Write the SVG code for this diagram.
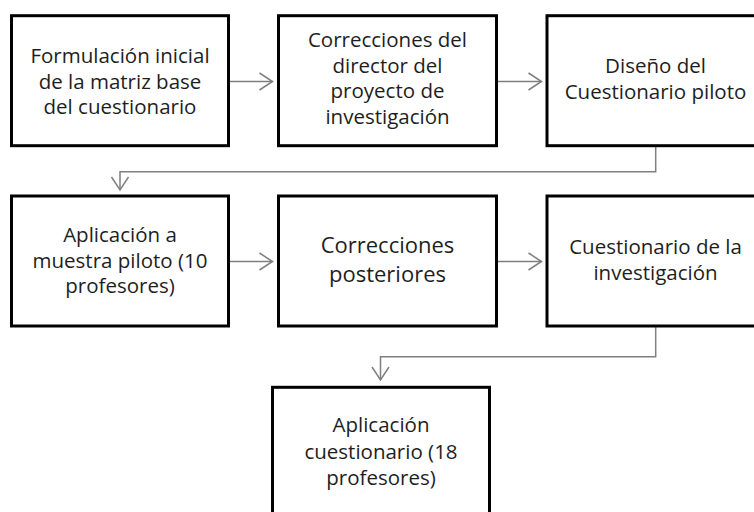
<svg xmlns="http://www.w3.org/2000/svg" width="754" height="512" viewBox="0 0 754 512">
<style>
.box{fill:#fff;stroke:#000;stroke-width:3}
.t{font-family:"Open Sans","Noto Sans","Liberation Sans",sans-serif;font-size:20.5px;fill:#1e1e1e;text-anchor:middle}
.big{font-size:22px}
.c{fill:none;stroke:#7f7f7f;stroke-width:1.5}
</style>
<defs>
<marker id="ah" viewBox="-15 -10 17 20" markerWidth="17" markerHeight="20" refX="0" refY="0" orient="auto" markerUnits="userSpaceOnUse" overflow="visible">
<path d="M-13,-8.5 L0,0 L-13,8.5" fill="none" stroke="#7f7f7f" stroke-width="1.5"/>
</marker>
</defs>
<rect width="754" height="512" fill="#fff"/>
<g id="connectors">
<path class="c" d="M229,81.5 H272.5" marker-end="url(#ah)"/>
<path class="c" d="M497,81.5 H541.5" marker-end="url(#ah)"/>
<path class="c" d="M655.7,146 V171.7 H120 V190" marker-end="url(#ah)"/>
<path class="c" d="M229,261.5 H272.5" marker-end="url(#ah)"/>
<path class="c" d="M497,261.5 H541.5" marker-end="url(#ah)"/>
<path class="c" d="M655.7,326 V356.7 H380.5 V380" marker-end="url(#ah)"/>
</g>
<g id="n1">
<rect class="box" x="11.5" y="15.7" width="217" height="130"/>
<text class="t" x="120" y="63"><tspan x="120">Formulación inicial</tspan><tspan x="120" dy="25.5">de la matriz base</tspan><tspan x="120" dy="25.5">del cuestionario</tspan></text>
</g>
<g id="n2">
<rect class="box" x="278.5" y="15.7" width="218" height="130"/>
<text class="t" x="387.5" y="47"><tspan x="387.5">Correcciones del</tspan><tspan x="387.5" dy="25.5">director del</tspan><tspan x="387.5" dy="25.5">proyecto de</tspan><tspan x="387.5" dy="25.5">investigación</tspan></text>
</g>
<g id="n3">
<rect class="box" x="547" y="15.7" width="217" height="130"/>
<text class="t" x="655.5" y="73"><tspan x="655.5">Diseño del</tspan><tspan x="655.5" dy="26">Cuestionario piloto</tspan></text>
</g>
<g id="n4">
<rect class="box" x="11.5" y="196" width="217" height="130"/>
<text class="t" x="120" y="242"><tspan x="120">Aplicación a</tspan><tspan x="120" dy="25.5">muestra piloto (10</tspan><tspan x="120" dy="25.5">profesores)</tspan></text>
</g>
<g id="n5">
<rect class="box" x="278.5" y="196" width="218" height="130"/>
<text class="t big" x="387.5" y="253"><tspan x="387.5">Correcciones</tspan><tspan x="387.5" dy="29">posteriores</tspan></text>
</g>
<g id="n6">
<rect class="box" x="547" y="196" width="217" height="130"/>
<text class="t" x="655.5" y="254"><tspan x="655.5">Cuestionario de la</tspan><tspan x="655.5" dy="26">investigación</tspan></text>
</g>
<g id="n7">
<rect class="box" x="272.5" y="387.3" width="217" height="130"/>
<text class="t" x="381" y="432"><tspan x="381">Aplicación</tspan><tspan x="381" dy="26.5">cuestionario (18</tspan><tspan x="381" dy="26.5">profesores)</tspan></text>
</g>
</svg>
